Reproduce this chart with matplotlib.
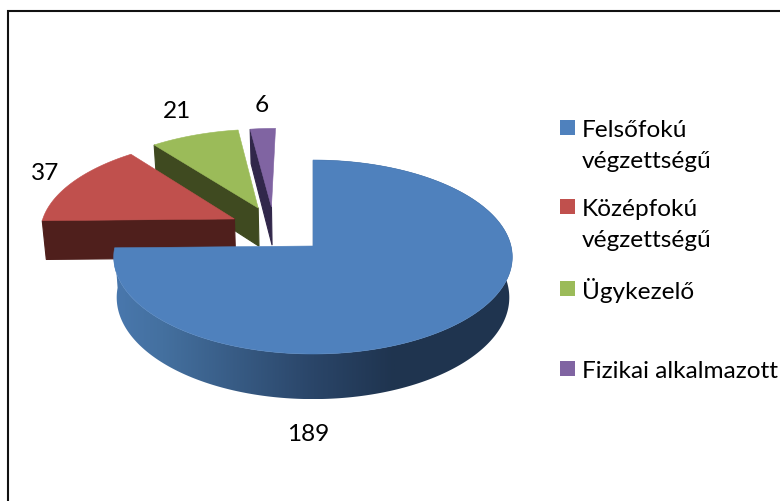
import numpy as np
import matplotlib
matplotlib.use('Agg')
import matplotlib.pyplot as plt
from matplotlib.colors import LinearSegmentedColormap
from matplotlib.patches import Polygon, Rectangle

categories = ['Felsőfokú\nvégzettségű', 'Középfokú\nvégzettségű', 'Ügykezelő', 'Fizikai alkalmazott']
values = [189, 37, 21, 6]

colors = ['#4F81BD', '#C0504D', '#9BBB59', '#8064A2']
face_colors = ['#1F344F', '#4F1F1C', '#3F4A20', '#31274A']
# explosion of each slice on the pie plane
offset_x = [0, -0.41, -0.29, -0.22]
offset_y = [0, 0.2915, 0.4155, 0.427]

cx, cy = 313, 247
rx, ry = 198, 95.75
persp = 0.1134
depth = 40
font = 'Lato'
fsize = 17.6


def project(x, y, z=0):
    w = 1 + persp * y
    return cx + rx * x / w * (1 - 0.015 * z), cy - ry * y / w + depth * z / w


fig = plt.figure(figsize=(7.8, 5.02), dpi=100)
ax = fig.add_axes([0, 0, 1, 1])
ax.set_xlim(0, 780)
ax.set_ylim(502, 0)
ax.axis('off')

ax.plot([8, 8, 780], [502, 12, 12], color='#111111', lw=1.5, solid_joinstyle='miter')

angles = np.cumsum([0] + values) / sum(values) * 2 * np.pi
wall_cmap = LinearSegmentedColormap.from_list('wall', [(0, '#4A79B0'), (0.2, '#44709F'),
                                                       (0.72, '#2A4568'), (1, '#1F344F')])

# back slices first, the big one goes on top
for i in [3, 2, 1, 0]:
    t = np.linspace(angles[i], angles[i + 1], 360)
    xs = np.sin(t) + offset_x[i]
    ys = np.cos(t) + offset_y[i]

    # only the big slice shows its outer wall
    if i == 0:
        upper = [project(a, b) for a, b in zip(xs, ys)]
        lower = [project(a, b, 1) for a, b in zip(xs, ys)]
        wall = Polygon(upper + lower[::-1], fc='none', ec='none')
        ax.add_patch(wall)
        grad = np.linspace(0, 1, 256).reshape(1, -1)
        img = ax.imshow(grad, cmap=wall_cmap, extent=(105, 395, 400, 160), aspect='auto', zorder=1)
        img.set_clip_path(wall)
        # right of the gradient stays flat dark
        flat = Polygon(upper + lower[::-1], fc='none', ec='none')
        ax.add_patch(flat)
        img2 = ax.imshow([[1, 1]], cmap=wall_cmap, vmin=0, vmax=1, extent=(395, 520, 400, 160),
                         aspect='auto', zorder=1)
        img2.set_clip_path(flat)
        ax.set_xlim(0, 780)
        ax.set_ylim(502, 0)

    # cut face at the start angle
    tip_top = project(offset_x[i], offset_y[i])
    tip_bot = project(offset_x[i], offset_y[i], 1)
    out_top = project(xs[0], ys[0])
    out_bot = project(xs[0], ys[0], 1)
    ax.add_patch(Polygon([tip_top, out_top, out_bot, tip_bot], fc=face_colors[i], ec=face_colors[i],
                         lw=0.8, zorder=2 + 3 - i))

    # top surface
    top = [tip_top] + [project(a, b) for a, b in zip(xs, ys)]
    ax.add_patch(Polygon(top, fc=colors[i], ec=colors[i], lw=0.4, zorder=2 + 3 - i))

ax.text(308, 435, str(values[0]), family=font, fontsize=fsize, ha='center', va='center', color='black')
ax.text(45, 174, str(values[1]), family=font, fontsize=fsize, ha='center', va='center', color='black')
ax.text(177, 112, str(values[2]), family=font, fontsize=fsize, ha='center', va='center', color='black')
ax.text(262, 105, str(values[3]), family=font, fontsize=fsize, ha='center', va='center', color='black')

# legend
swatch_y = [121, 200, 282, 362]
label_y = [146, 225, 291, 372]
for i in range(4):
    ax.add_patch(Rectangle((560, swatch_y[i]), 15, 15, fc=colors[i], ec='none'))
    ax.text(582, label_y[i], categories[i], family=font, fontsize=fsize, ha='left', va='center',
            color='black', linespacing=1.6)

fig.savefig('out.png', dpi=100)
